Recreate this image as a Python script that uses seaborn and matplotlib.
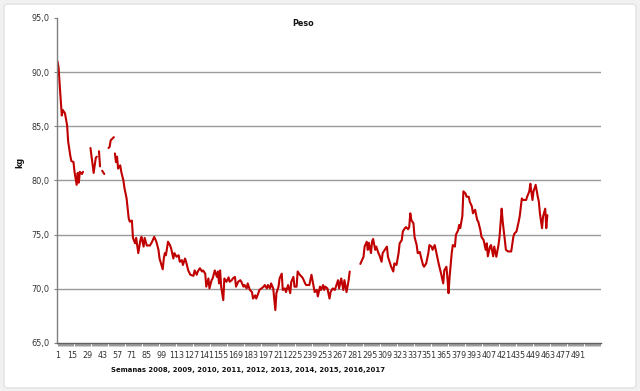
import numpy as np
import pandas as pd
import matplotlib
matplotlib.use("Agg")
import matplotlib.pyplot as plt
import seaborn as sns
from matplotlib.patches import FancyBboxPatch
from matplotlib.ticker import FuncFormatter, FixedLocator, MultipleLocator

# ---- data (week number, weight in kg); None rows mark gaps in the series ----
semanas = [
    1, 2, 3, 5, 6, 8, 10, 11, 13, 14, 16, 17, 19, 20, 21, 22, 24, 25, None,
    32, 35, 37, 38, None,
    40, 41, None,
    43, 45, None,
    49, 50, 51, 54, None,
    55, 56, 57, 58, 60, 61, 63, 64, 66, 68, 69, 71, 72, 74, 75, 77, 79, 80, 82, 83,
    85, 88, 90, 92, 94, 96, 97, 100, 101, 102, 103, 105, 107, 108, 110, 111, 113, 115,
    116, 118, 119, 121, 122, 124, 126, 129, 130, 132, 133, 135, 137, 138, 140, 141,
    143, 144, 146, 147, 149, 151, 152, 153, 154, 155, 157, 158, 160, 162, 163, 165,
    166, 168, 169, 171, 173, 174, 176, 177, 179, 180, 182, 184, 185, 187, 188, 190,
    191, 193, 195, 196, 198, 199, 201, 202, 204, 206, 207, 209, 210, 212, 213, 215,
    216, 218, 220, 221, 223, 224, 226, 227, 229, 231, 232, 234, 235, 238, 240, 242,
    243, 245, 246, 248, 249, 251, 252, 253, 255, 257, 258, 260, 262, 263, 265, 266,
    268, 270, 271, 273, 275, 276, None,
    286, 289, 290, 292, 293, 294, 296, 297, 298, 300, 301, 303, 304, 306, 307, 309,
    311, 312, 314, 315, 317, 318, 320, 322, 323, 325, 326, 328, 329, 331, 332, 333,
    334, 336, 337, 339, 340, 342, 343, 345, 346, 348, 350, 351, 353, 354, 356, 357,
    359, 360, 362, 364, 365, 367, 368, 369, 370, 372, 373, 375, 376, 378, 379, 380,
    382, 383, 385, 386, 388, 389, 391, 392, 394, 396, 397, 399, 400, 402, 404, 405,
    406, 408, 409, 411, 412, 414, 416, 417, 419, 420, 422, 423, 425, 428, 430, 431,
    433, 435, 436, 438, 439, 442, 443, 445, 446, 448, 449, 451, 453, 454, 455, 457,
    458, 460, 461, 462,
]
peso = [
    91.0, 90.4, 88.9, 86.0, 86.5, 86.2, 85.1, 83.6, 82.3, 81.8, 81.7, 80.8, 79.6, 80.7, 79.8, 80.8, 80.6, 80.8, None,
    83.0, 80.7, 82.1, 82.2, None,
    82.7, 81.3, None,
    80.9, 80.6, None,
    83.0, 83.1, 83.7, 84.0, None,
    82.5, 81.7, 82.2, 81.1, 81.4, 80.8, 80.0, 79.3, 78.35, 76.5, 76.2, 76.3, 74.7, 74.2, 74.7, 73.3, 74.5, 74.8, 73.9, 74.7,
    74.0, 74.0, 74.35, 74.8, 74.35, 73.6, 72.8, 71.8, 72.8, 73.3, 73.1, 74.35, 74.0, 73.7, 72.8, 73.3, 72.96, 73.1,
    72.5, 72.65, 72.2, 72.8, 72.5, 71.7, 71.3, 71.2, 71.7, 71.3, 71.6, 71.9, 71.6, 71.7, 71.4, 70.2,
    70.96, 70.04, 70.8, 70.96, 71.7, 71.1, 71.6, 70.5, 71.7, 70.2, 68.96, 70.96, 70.65, 71.06, 70.65, 70.8,
    70.96, 71.1, 70.2, 70.65, 70.8, 70.65, 70.2, 70.35, 70.04, 70.5, 69.9, 69.7, 69.1, 69.4, 69.1, 69.6,
    69.9, 70.04, 70.2, 70.35, 70.04, 70.35, 70.04, 70.5, 70.04, 68.04, 69.6, 70.2, 70.96, 71.4, 69.9, 70.04,
    69.7, 70.35, 69.6, 70.65, 71.1, 70.2, 70.2, 71.6, 71.3, 71.1, 70.96, 70.5, 70.35, 70.35, 71.3, 70.2,
    69.7, 69.9, 69.3, 70.2, 69.9, 70.35, 69.9, 70.2, 70.04, 69.1, 69.7, 70.04, 69.9, 70.2, 70.8, 70.04,
    70.96, 69.9, 70.8, 69.7, 70.8, 71.6, None,
    72.3, 72.96, 73.9, 74.35, 73.6, 74.25, 73.3, 74.35, 74.6, 73.6, 73.9, 73.3, 73.1, 72.5, 73.3, 73.6,
    73.9, 72.96, 72.35, 72.04, 71.6, 72.35, 72.2, 73.3, 74.2, 74.5, 75.3, 75.6, 75.7, 75.5, 75.7, 76.97,
    76.35, 76.04, 74.8, 74.04, 73.3, 73.4, 72.96, 72.2, 72.04, 72.35, 73.3, 74.04, 73.9, 73.6, 74.04, 73.6,
    72.65, 72.2, 71.4, 70.5, 71.7, 72.04, 70.96, 69.6, 71.1, 73.3, 74.04, 73.9, 75.0, 75.4, 75.9, 75.6,
    76.7, 79.0, 78.8, 78.5, 78.5, 78.04, 77.6, 76.97, 77.3, 76.35, 76.2, 75.4, 74.8, 74.5, 73.6, 74.2,
    73.0, 73.9, 74.04, 73.0, 73.9, 72.96, 74.04, 74.8, 77.4, 76.2, 74.5, 73.6, 73.45, 73.45, 74.8, 75.1,
    75.3, 76.2, 76.7, 78.35, 78.2, 78.2, 78.5, 79.0, 79.7, 78.2, 79.0, 79.6, 78.5, 78.04, 76.97, 75.6,
    76.7, 77.4, 75.6, 76.8,
]

x_labels = list(range(1, 492, 14))
y_ticks = [65, 70, 75, 80, 85, 90, 95]

titulo = "Peso"
eje_y = "kg"
eje_x = "Semanas 2008, 2009, 2010, 2011, 2012, 2013, 2014, 2015, 2016,2017"

# ---- build table ----
df = pd.DataFrame({"semana": semanas, "kg": peso}, dtype=float)
df["tramo"] = df["kg"].isna().cumsum()
df = df.dropna()

sns.set_style("white")
plt.rcParams["font.family"] = ["DejaVu Sans"]

W, H = 640, 391
fig = plt.figure(figsize=(W / 100, H / 100), dpi=100)
fig.patch.set_facecolor("#f1f1f1")
frame = FancyBboxPatch((4 / W, 3 / H), 632 / W, 384 / H,
                       boxstyle="round,pad=0,rounding_size=0.008",
                       transform=fig.transFigure, facecolor="white",
                       edgecolor="#e2e2e2", linewidth=1.0, zorder=-10)
fig.patches.append(frame)

L, R, T, B = 57, 601, 18, 343
ax = fig.add_axes([L / W, 1 - B / H, (R - L) / W, (B - T) / H])
ax.set_facecolor("white")

sns.lineplot(data=df, x="semana", y="kg", units="tramo", estimator=None,
             sort=False, color="#c00000", linewidth=1.5, ax=ax, legend=False)

ax.set_xlim(0.5, 512.5)
ax.set_ylim(65, 95)

ax.yaxis.set_major_locator(FixedLocator(y_ticks))
ax.yaxis.set_major_formatter(FuncFormatter(lambda v, p: f"{v:.1f}".replace(".", ",")))
ax.xaxis.set_major_locator(FixedLocator(x_labels))
ax.xaxis.set_major_formatter(FuncFormatter(lambda v, p: f"{int(round(v))}"))
ax.xaxis.set_minor_locator(MultipleLocator(1))

ax.yaxis.grid(True, color="#9a9a9a", linewidth=1.0)
ax.xaxis.grid(False)
for gl, v in zip(ax.get_ygridlines(), y_ticks):
    if v in (65, 95):
        gl.set_visible(False)
ax.set_axisbelow(True)

for s in ("top", "right"):
    ax.spines[s].set_visible(False)
ax.spines["left"].set_color("#808080")
ax.spines["left"].set_linewidth(1.0)
ax.spines["bottom"].set_color("#606060")
ax.spines["bottom"].set_linewidth(1.0)

ax.tick_params(axis="y", which="major", left=True, length=2.5, width=0.8,
               color="#808080", labelsize=5.9, labelcolor="#333333", pad=3)
ax.tick_params(axis="x", which="both", bottom=True, length=2.5, width=0.4,
               color="#505050", direction="out")
ax.tick_params(axis="x", which="major", labelsize=5.8, labelcolor="#333333", pad=3)

ax.set_xlabel("")
ax.set_ylabel("")
fig.text(303 / W, 1 - 24 / H, titulo, ha="center", va="center",
         fontsize=5.8, fontweight="bold", color="#111111")
fig.text(20 / W, 1 - 162 / H, eje_y, ha="center", va="center", rotation=90,
         fontsize=5.8, fontweight="bold", color="#111111")
fig.text(248 / W, 1 - 370 / H, eje_x, ha="center", va="center",
         fontsize=4.95, fontweight="bold", color="#111111")

fig.savefig("out.png", dpi=100, facecolor=fig.get_facecolor())
